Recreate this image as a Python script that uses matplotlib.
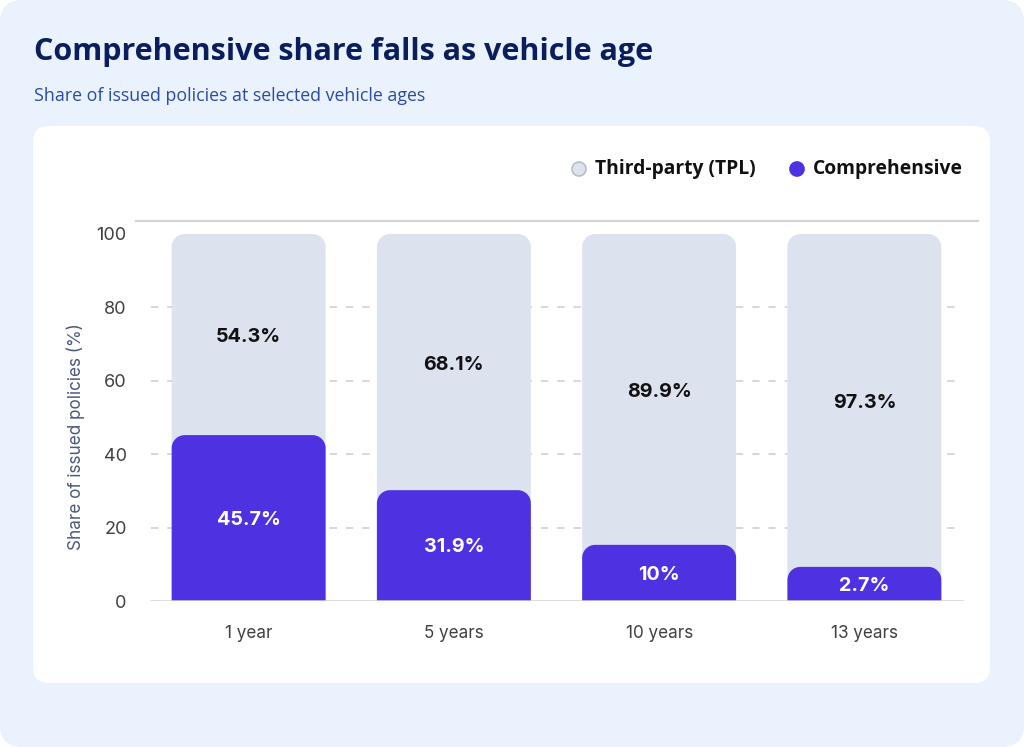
import matplotlib
matplotlib.use("Agg")
import matplotlib.pyplot as plt
from matplotlib.patches import FancyBboxPatch, PathPatch, Circle
from matplotlib.path import Path
from matplotlib.lines import Line2D

# ---- data ----
age_labels = ["1 year", "5 years", "10 years", "13 years"]
comprehensive = [45.7, 31.9, 10.0, 2.7]      # label values (%)
tpl = [54.3, 68.1, 89.9, 97.3]               # label values (%)
comp_drawn = [45.2, 30.2, 15.3, 9.3]         # bar heights as drawn on the axis
total = [100, 100, 100, 100]
y_ticks = [0, 20, 40, 60, 80, 100]

title = "Comprehensive share falls as vehicle age"
subtitle = "Share of issued policies at selected vehicle ages"
ylabel = "Share of issued policies (%)"

# ---- style ----
W, H = 1024, 747
BG = "#EAF2FD"
PURPLE = "#4E31E0"
GRAY = "#DDE3EE"
GRID = "#D4D4D4"
TITLE_C = "#0A1E5E"
SUB_C = "#2A4AA5"
TICK_C = "#404040"
HEAD_FONT = ["Open Sans", "DejaVu Sans"]
BODY_FONT = ["Inter", "DejaVu Sans"]

fig = plt.figure(figsize=(W / 100, H / 100), dpi=100, facecolor="white")
px = fig.dpi_scale_trans  # inches


def P(v):
    return v / 100.0


# outer rounded background
fig.add_artist(FancyBboxPatch((P(0), P(0)), P(W), P(H),
                              boxstyle=f"round,pad=0,rounding_size={P(22)}",
                              transform=px, facecolor=BG, edgecolor="none", zorder=-2))
# white card
card_x0, card_x1, card_y0, card_y1 = 33, 990, 126, 683
fig.add_artist(FancyBboxPatch((P(card_x0), P(H - card_y1)), P(card_x1 - card_x0), P(card_y1 - card_y0),
                              boxstyle=f"round,pad=0,rounding_size={P(16)}",
                              transform=px, facecolor="white", edgecolor="none", zorder=-1))

# title / subtitle
fig.text(P(34), P(H - 52), title, transform=px, fontsize=22, fontweight="bold",
         color=TITLE_C, family=HEAD_FONT, va="center", ha="left")
fig.text(P(34), P(H - 96), subtitle, transform=px, fontsize=12.8,
         color=SUB_C, family=HEAD_FONT, va="center", ha="left")

# legend
leg_y = H - 169
for cx, col, ec, txt, tx in [(579, GRAY, "#B7BDC7", "Third-party (TPL)", 595),
                             (797, PURPLE, PURPLE, "Comprehensive", 813)]:
    fig.add_artist(Circle((P(cx), P(leg_y)), P(7), transform=px, facecolor=col,
                          edgecolor=ec, lw=1.2, zorder=3))
    fig.text(P(tx), P(leg_y), txt, transform=px, fontsize=13.9, fontweight="bold",
             color="#111111", family=HEAD_FONT, va="center", ha="left")

# top separator line
fig.add_artist(Line2D([P(136), P(978)], [P(H - 221), P(H - 221)], transform=px,
                      color=GRID, lw=1.6, zorder=2))

# axes
ax_l, ax_r, ax_b, ax_t = 146, 967, 601, 234
ax = fig.add_axes([ax_l / W, (H - ax_b) / H, (ax_r - ax_l) / W, (ax_b - ax_t) / H])
ax.set_zorder(1)
ax.set_facecolor("none")
n = len(age_labels)
ax.set_xlim(-0.5, n - 0.5)
ax.set_ylim(0, 100)
for s in ax.spines.values():
    s.set_visible(False)
ax.tick_params(length=0)
ax.set_yticks(y_ticks)
ax.set_yticklabels([str(t) for t in y_ticks], fontsize=13, color=TICK_C, family=BODY_FONT)
ax.tick_params(axis="y", pad=14)
ax.set_xticks(range(n))
ax.set_xticklabels(age_labels, fontsize=12.3, color=TICK_C, family=BODY_FONT)
ax.tick_params(axis="x", pad=17.5)

xfrac0 = 5 / (ax_r - ax_l)
xfrac1 = 1 - 5 / (ax_r - ax_l)
for t in y_ticks[1:-1]:
    ax.axhline(t, xmin=xfrac0, xmax=xfrac1, color=GRID, lw=1.3, ls=(0, (4, 5)), zorder=1)
ax.axhline(0, xmin=xfrac0, xmax=xfrac1, color=GRID, lw=1.8, zorder=4)

# rounded-top bar helper (radius in pixels)
px_per_x = (ax_r - ax_l) / n
px_per_y = (ax_b - ax_t) / 100.0
R = 13
rx, ry = R / px_per_x, R / px_per_y
K = 0.5523


def rounded_top(x0, x1, y0, y1):
    ry_ = min(ry, (y1 - y0))
    verts = [(x0, y0), (x1, y0), (x1, y1 - ry_),
             (x1, y1 - ry_ + K * ry_), (x1 - rx + K * rx, y1), (x1 - rx, y1),
             (x0 + rx, y1),
             (x0 + rx - K * rx, y1), (x0, y1 - ry_ + K * ry_), (x0, y1 - ry_),
             (x0, y0)]
    codes = [Path.MOVETO, Path.LINETO, Path.LINETO,
             Path.CURVE4, Path.CURVE4, Path.CURVE4,
             Path.LINETO,
             Path.CURVE4, Path.CURVE4, Path.CURVE4,
             Path.CLOSEPOLY]
    return Path(verts, codes)


bw = 0.75
for i in range(n):
    x0, x1 = i - bw / 2, i + bw / 2
    ax.add_patch(PathPatch(rounded_top(x0, x1, 0, total[i]), facecolor=GRAY,
                           edgecolor="none", zorder=2, clip_on=False))
    ax.add_patch(PathPatch(rounded_top(x0, x1, 0, comp_drawn[i]), facecolor=PURPLE,
                           edgecolor="none", zorder=3, clip_on=False))
    ax.text(i, (comp_drawn[i] + total[i]) / 2 - 0.8, f"{tpl[i]:g}%", ha="center", va="center",
            fontsize=14.2, fontweight="bold", color="#111111", family=BODY_FONT, zorder=5)
    ax.text(i, comp_drawn[i] / 2 - 0.5, f"{comprehensive[i]:g}%", ha="center", va="center",
            fontsize=14.2, fontweight="bold", color="white", family=BODY_FONT, zorder=5)

# y label
fig.text(P(76), P(H - 437), ylabel, transform=px, rotation=90, fontsize=12.3,
         color="#4A587A", family=BODY_FONT, va="center", ha="center")

fig.savefig("out.png", dpi=100, facecolor="white")
